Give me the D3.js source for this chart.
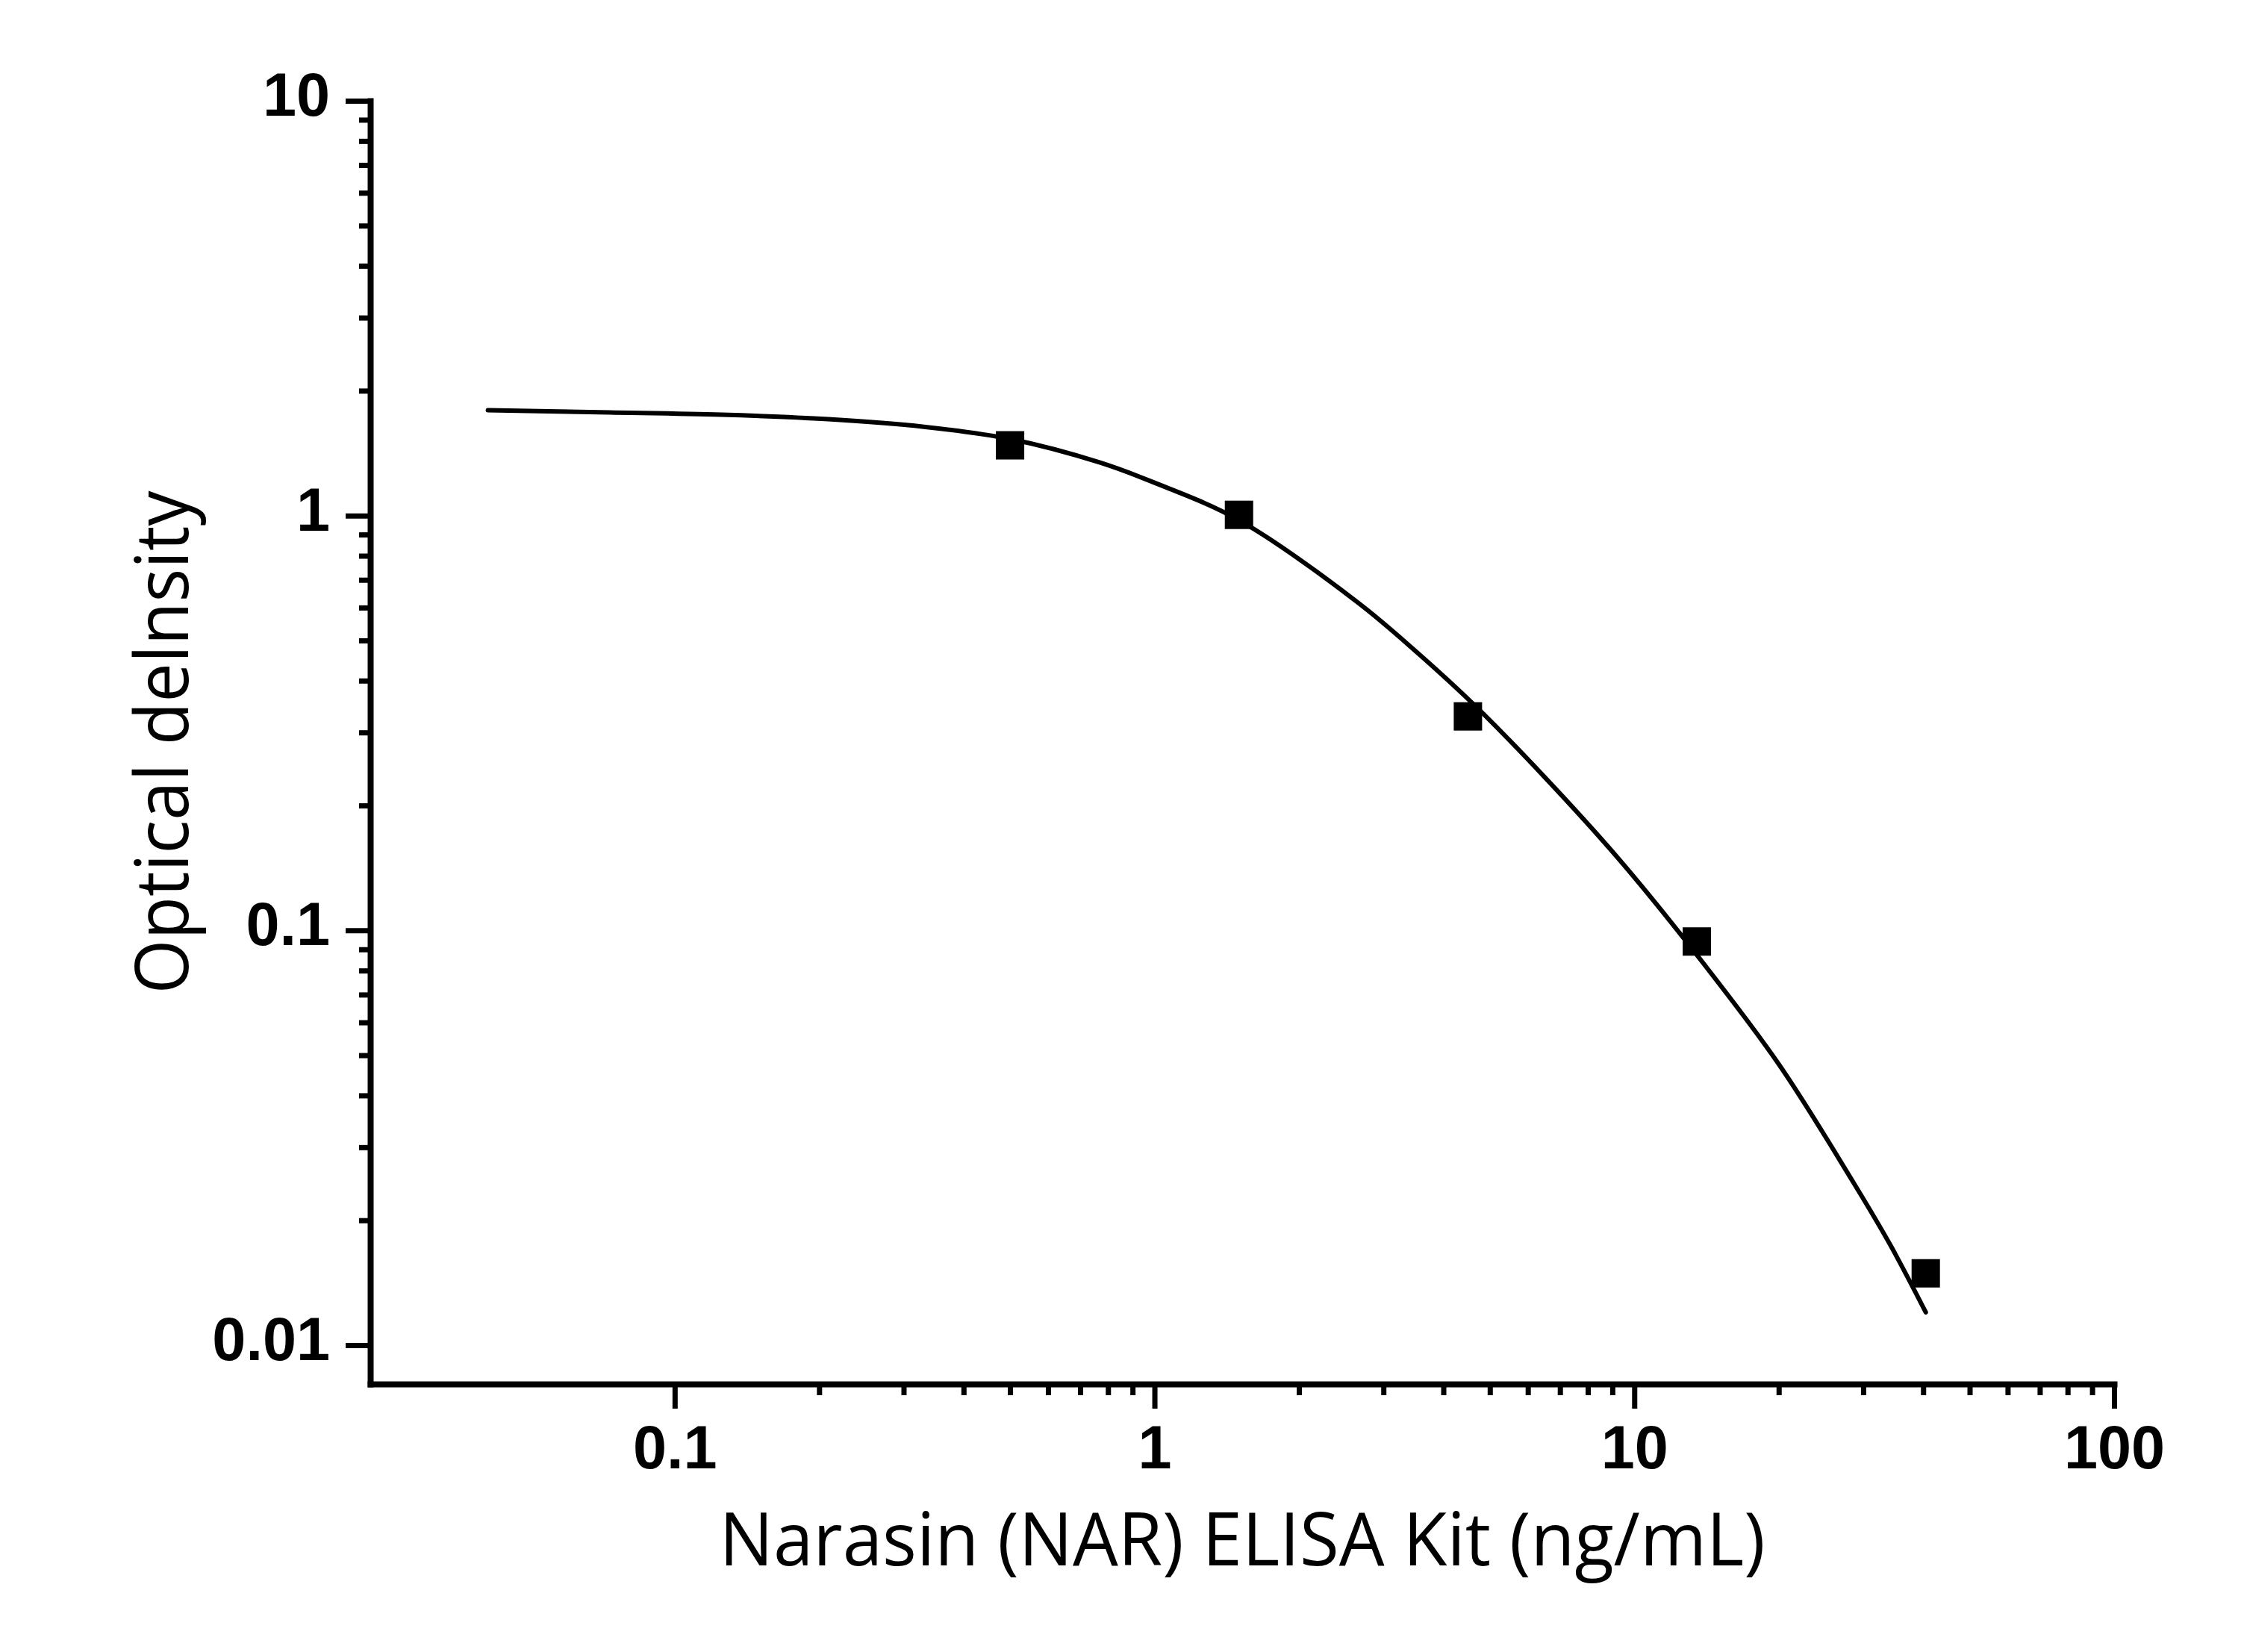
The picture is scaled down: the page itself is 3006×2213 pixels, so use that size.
<!DOCTYPE html>
<html>
<head>
<meta charset="utf-8">
<script src="https://cdn.jsdelivr.net/npm/d3@7"></script>
<style>
  body { margin: 0; background: #fff; }
  svg { display: block; }
</style>
</head>
<body>
<div id="chart"></div>
<script>
// measured standards (concentration, OD)
var concentrations = [0.5, 1.5, 4.5, 13.5, 40.5];
var odValues = [1.477, 1.004, 0.328, 0.094, 0.0149];

// fitted curve
var fitX = [0.0408, 0.0731, 0.1252, 0.209, 0.3305, 0.5, 0.77, 1.0, 1.5, 2.65, 3.54, 4.67, 6.44, 9.22, 13.2, 20.0, 28.6, 34.2, 40.5];
var fitY = [1.795, 1.773, 1.75, 1.707, 1.637, 1.53, 1.342, 1.2, 0.975, 0.618, 0.466, 0.347, 0.237, 0.150, 0.0902, 0.0476, 0.0247, 0.0174, 0.0120];

// ticks
var xMajorTicks = [0.1, 1, 10, 100];
var xTickLabels = ["0.1", "1", "10", "100"];
var yMajorTicks = [0.01, 0.1, 1, 10];
var yTickLabels = ["0.01", "0.1", "1", "10"];
var minorSteps = [2, 3, 4, 5, 6, 7, 8, 9];

var xTitle = "Narasin (NAR) ELISA Kit (ng/mL)";
var yTitle = "Optical delnsity";

var svgWidth = 3006, svgHeight = 2213;
var margin = {top: 135, right: 174, bottom: 359, left: 496};
var width = svgWidth - margin.left - margin.right,
    height = svgHeight - margin.top - margin.bottom;

var svg = d3.select("#chart")
  .append("svg")
    .attr("width", svgWidth)
    .attr("height", svgHeight)
    .style("background", "#fff");

var g = svg.append("g")
    .attr("transform", "translate(" + margin.left + "," + margin.top + ")");

var x = d3.scaleLog()
  .domain([0.0232, 100])
  .range([0, width]);

var y = d3.scaleLog()
  .domain([0.00806, 10])
  .range([height, 0]);

// minor tick values, one decade at a time between the majors
var xMinor = [];
xMajorTicks.slice(0, -1).forEach(function(d) {
  minorSteps.forEach(function(m) { xMinor.push(d * m); });
});
var yMinor = [];
yMajorTicks.slice(0, -1).forEach(function(d) {
  minorSteps.forEach(function(m) { yMinor.push(d * m); });
});

// minor ticks
g.append("g")
  .attr("class", "minor")
  .attr("transform", "translate(0," + height + ")")
  .call(d3.axisBottom(x).tickValues(xMinor).tickSize(15).tickFormat(""));
g.append("g")
  .attr("class", "minor")
  .call(d3.axisLeft(y).tickValues(yMinor).tickSize(15).tickFormat(""));
g.selectAll(".minor .domain").remove();

// major ticks + labels
var xAxis = g.append("g")
  .attr("class", "major")
  .attr("transform", "translate(0," + height + ")")
  .call(d3.axisBottom(x)
    .tickValues(xMajorTicks)
    .tickSize(33)
    .tickSizeOuter(0)
    .tickPadding(22)
    .tickFormat(function(d, i) { return xTickLabels[i]; }));

var yAxis = g.append("g")
  .attr("class", "major")
  .call(d3.axisLeft(y)
    .tickValues(yMajorTicks)
    .tickSize(33)
    .tickSizeOuter(0)
    .tickPadding(21)
    .tickFormat(function(d, i) { return yTickLabels[i]; }));

g.selectAll(".tick line")
  .attr("stroke", "#000")
  .attr("stroke-width", 7);
g.selectAll(".domain")
  .attr("stroke", "#000")
  .attr("stroke-width", 8)
  .attr("stroke-linecap", "square");

g.selectAll(".major text")
  .attr("fill", "#000")
  .style("font-family", "'Liberation Sans', Arial, Helvetica, sans-serif")
  .style("font-weight", "bold")
  .style("font-size", "81px");
yAxis.selectAll("text").attr("dy", "0.24em");

// fitted curve
var line = d3.line()
  .x(function(d) { return x(d[0]); })
  .y(function(d) { return y(d[1]); })
  .curve(d3.curveCatmullRom.alpha(0.5));

g.append("path")
  .datum(fitX.map(function(d, i) { return [d, fitY[i]]; }))
  .attr("fill", "none")
  .attr("stroke", "#000")
  .attr("stroke-width", 6)
  .attr("stroke-linecap", "round")
  .attr("stroke-linejoin", "round")
  .attr("d", line);

// data squares
var sq = 38;
g.selectAll("rect.pt")
  .data(concentrations)
  .join("rect")
    .attr("class", "pt")
    .attr("x", function(d) { return x(d) - sq / 2; })
    .attr("y", function(d, i) { return y(odValues[i]) - sq / 2; })
    .attr("width", sq)
    .attr("height", sq)
    .attr("fill", "#000");

// axis titles
g.append("text")
  .attr("x", width / 2)
  .attr("y", height + 243)
  .attr("text-anchor", "middle")
  .attr("textLength", 1401)
  .attr("lengthAdjust", "spacingAndGlyphs")
  .style("font-family", "'Open Sans', 'Noto Sans', sans-serif")
  .style("font-size", "99px")
  .attr("fill", "#000")
  .text(xTitle);

g.append("text")
  .attr("transform", "translate(" + (252 - margin.left) + "," + (height / 2) + ") rotate(-90)")
  .attr("text-anchor", "middle")
  .attr("textLength", 674)
  .attr("lengthAdjust", "spacingAndGlyphs")
  .style("font-family", "'Open Sans', 'Noto Sans', sans-serif")
  .style("font-size", "99px")
  .attr("fill", "#000")
  .text(yTitle);
</script>
</body>
</html>
